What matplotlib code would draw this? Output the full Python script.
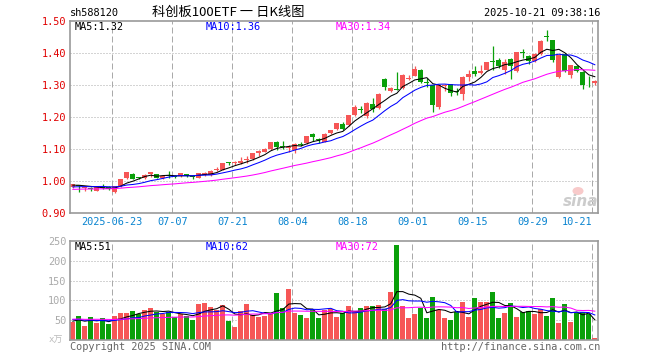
import matplotlib
matplotlib.use('Agg')
import matplotlib.pyplot as plt
from matplotlib.patches import Ellipse
import numpy as np
import pandas as pd

# trading days 2025-06-12 .. 2025-10-21 (national day holiday removed)
dates = pd.bdate_range('2025-06-12', '2025-10-21')
dates = dates[(dates < '2025-10-01') | (dates > '2025-10-08')]

# daily K data
opens = [0.980, 0.985, 0.976, 0.977, 0.969, 0.979, 0.981, 0.965, 0.983, 1.007,
         1.020, 1.011, 1.007, 1.021, 1.020, 1.008, 1.016, 1.014, 1.015, 1.020,
         1.013, 1.010, 1.018, 1.017, 1.033, 1.035, 1.056, 1.055, 1.056, 1.064,
         1.067, 1.086, 1.091, 1.098, 1.122, 1.106, 1.103, 1.096, 1.113, 1.117,
         1.146, 1.128, 1.122, 1.148, 1.161, 1.177, 1.174, 1.205, 1.224, 1.202,
         1.241, 1.226, 1.317, 1.281, 1.287, 1.289, 1.318, 1.328, 1.346, 1.306,
         1.299, 1.231, 1.295, 1.301, 1.280, 1.270, 1.323, 1.344, 1.336, 1.347,
         1.374, 1.378, 1.347, 1.380, 1.344, 1.400, 1.389, 1.373, 1.396, 1.452,
         1.440, 1.324, 1.396, 1.331, 1.358, 1.340, 1.312, 1.305]
highs = [0.990, 0.988, 0.982, 0.980, 0.981, 0.990, 0.983, 0.985, 1.006, 1.028,
         1.023, 1.013, 1.022, 1.027, 1.021, 1.018, 1.030, 1.018, 1.025, 1.022,
         1.015, 1.025, 1.026, 1.032, 1.044, 1.055, 1.059, 1.060, 1.075, 1.076,
         1.087, 1.095, 1.101, 1.121, 1.124, 1.124, 1.110, 1.117, 1.122, 1.141,
         1.149, 1.135, 1.150, 1.160, 1.180, 1.182, 1.206, 1.236, 1.232, 1.245,
         1.257, 1.273, 1.322, 1.292, 1.339, 1.334, 1.330, 1.357, 1.350, 1.320,
         1.300, 1.300, 1.301, 1.303, 1.290, 1.327, 1.347, 1.357, 1.360, 1.372,
         1.420, 1.385, 1.380, 1.384, 1.403, 1.412, 1.394, 1.398, 1.440, 1.472,
         1.441, 1.393, 1.398, 1.362, 1.362, 1.342, 1.326, 1.315]
lows = [0.978, 0.966, 0.968, 0.967, 0.967, 0.974, 0.971, 0.962, 0.981, 1.005,
        1.004, 1.006, 1.005, 1.011, 1.008, 1.006, 1.008, 1.008, 1.013, 1.011,
        1.005, 1.008, 1.015, 1.015, 1.030, 1.034, 1.048, 1.048, 1.053, 1.056,
        1.066, 1.078, 1.089, 1.097, 1.095, 1.098, 1.090, 1.087, 1.108, 1.114,
        1.124, 1.117, 1.120, 1.145, 1.158, 1.158, 1.172, 1.202, 1.212, 1.195,
        1.215, 1.224, 1.283, 1.276, 1.282, 1.286, 1.315, 1.326, 1.305, 1.294,
        1.216, 1.225, 1.280, 1.264, 1.268, 1.253, 1.310, 1.328, 1.333, 1.345,
        1.347, 1.352, 1.335, 1.319, 1.340, 1.385, 1.364, 1.370, 1.394, 1.435,
        1.370, 1.322, 1.340, 1.320, 1.340, 1.288, 1.292, 1.300]
closes = [0.989, 0.982, 0.977, 0.975, 0.979, 0.977, 0.973, 0.982, 1.005, 1.026,
          1.006, 1.009, 1.019, 1.026, 1.010, 1.016, 1.014, 1.012, 1.023, 1.015,
          1.011, 1.024, 1.024, 1.031, 1.037, 1.054, 1.054, 1.058, 1.060, 1.068,
          1.086, 1.093, 1.100, 1.120, 1.106, 1.104, 1.105, 1.115, 1.112, 1.140,
          1.138, 1.126, 1.146, 1.157, 1.179, 1.162, 1.205, 1.231, 1.222, 1.242,
          1.224, 1.272, 1.294, 1.291, 1.285, 1.330, 1.320, 1.349, 1.307, 1.304,
          1.236, 1.299, 1.298, 1.273, 1.278, 1.325, 1.333, 1.333, 1.344, 1.370,
          1.372, 1.357, 1.371, 1.357, 1.402, 1.398, 1.373, 1.396, 1.437, 1.450,
          1.378, 1.392, 1.342, 1.360, 1.344, 1.298, 1.310, 1.313]
# volume, 10k shares
volumes = [46, 61, 36, 58, 43, 56, 41, 61, 68, 68, 73, 66, 77, 81, 71, 66, 71, 58,
           66, 62, 52, 92, 93, 83, 77, 88, 49, 33, 73, 91, 64, 59, 62, 66, 118, 81,
           128, 68, 63, 56, 76, 56, 77, 79, 58, 68, 86, 71, 81, 86, 86, 88, 78, 121,
           238, 86, 56, 66, 81, 56, 108, 76, 56, 51, 71, 96, 58, 106, 96, 96, 121,
           56, 68, 93, 58, 71, 73, 66, 78, 61, 106, 43, 91, 46, 68, 71, 66, 6]

# estimated sessions before the window, only used to start the moving averages
prior_closes = [0.962, 0.965, 0.970, 0.968, 0.972, 0.966, 0.963, 0.969, 0.974, 0.971,
                0.967, 0.965, 0.970, 0.973, 0.968, 0.972, 0.975, 0.970, 0.966, 0.974,
                0.976, 0.972, 0.978, 0.974, 0.975, 0.983, 0.986, 0.984, 0.988]
prior_volumes = [48, 62, 55, 41, 58, 50, 67, 45, 52, 60, 49, 57, 44, 63, 51, 56, 47, 59,
                 53, 53, 60, 52, 58, 49, 61, 45, 52, 47, 50]

tick_dates = ['2025-06-23', '2025-07-07', '2025-07-21', '2025-08-04', '2025-08-18',
              '2025-09-01', '2025-09-15', '2025-09-29', '2025-10-21']
price_legend = ['MA5:1.32', 'MA10:1.36', 'MA30:1.34']
vol_legend = ['MA5:51', 'MA10:62', 'MA30:72']

RED = '#f65656'
GREEN = '#0aa00a'
GRID = '#aaaaaa'
MONO = 'DejaVu Sans Mono'
ma_colors = ['black', '#0000ff', '#ff00ff']

W, H = 660, 360
def px(xp, yp):
    return xp / W, 1 - yp / H

fig = plt.figure(figsize=(6.6, 3.6), dpi=100)
ax = fig.add_axes([70.3 / W, 1 - 212.7 / H, 528 / W, 192 / H])
axv = fig.add_axes([70.3 / W, 1 - 340.3 / H, 528 / W, 99.6 / H])

o = np.array(opens)
h = np.array(highs)
l = np.array(lows)
c = np.array(closes)
v = np.array(volumes)
x = np.arange(len(c))
cols = np.where(c >= o, RED, GREEN)

# moving averages
allc = pd.Series(prior_closes + closes)
allv = pd.Series(prior_volumes + volumes)
n0 = len(prior_closes)
pma = [allc.rolling(n).mean().values[n0:] for n in (5, 10, 30)]
vma = [allv.rolling(n).mean().values[n0:] for n in (5, 10, 30)]

tick_pos = [list(dates).index(pd.Timestamp(d)) - 0.42 for d in tick_dates]
tick_lab = [tick_dates[0]] + [d[5:] for d in tick_dates[1:]]

for a in (ax, axv):
    a.set_xlim(-0.42, len(c) - 0.42)
    for t in tick_pos:
        a.axvline(t, color=GRID, lw=0.72, ls=(0, (6, 3)), zorder=0)
    for s in a.spines.values():
        s.set_color('#999999')
        s.set_linewidth(1.2)
    a.tick_params(length=0)

# price panel
for yv in [1.0, 1.1, 1.2, 1.3, 1.4]:
    ax.axhline(yv, color=GRID, lw=0.72, ls=(0, (1, 2)), zorder=0)
ax.vlines(x, l, h, colors=cols, lw=0.9, zorder=2)
ax.bar(x, np.maximum(np.abs(c - o), 0.003), 0.78, bottom=np.minimum(o, c),
       color=cols, lw=0, zorder=2)
for m, col in zip(pma, ma_colors):
    ax.plot(x, m, color=col, lw=0.75, zorder=3)
ax.set_ylim(0.90, 1.50)
ax.set_yticks([0.9, 1.0, 1.1, 1.2, 1.3, 1.4, 1.5])
ax.set_yticklabels(['%.2f' % t for t in ax.get_yticks()], color='#e00000',
                   fontsize=7.4, family=MONO)
ax.tick_params(axis='y', pad=3)
ax.set_xticks(tick_pos)
ax.set_xticklabels(tick_lab, color='#0a84d0', fontsize=7.4, family=MONO)
ax.get_xticklabels()[-1].set_ha('right')
ax.tick_params(axis='x', pad=3)

# volume panel
for yv in [50, 100, 150, 200]:
    axv.axhline(yv, color=GRID, lw=0.72, ls=(0, (1, 2)), zorder=0)
axv.bar(x, v, 0.82, color=cols, lw=0, zorder=2)
for m, col in zip(vma, ma_colors):
    axv.plot(x, m, color=col, lw=0.75, zorder=3)
axv.set_ylim(0, 250)
axv.set_yticks([50, 100, 150, 200, 250])
axv.set_yticklabels(['50', '100', '150', '200', '250'], color='#aaaaaa',
                    fontsize=7.4, family=MONO)
axv.tick_params(axis='y', pad=3)
axv.set_xticks([])

# header, legends, footer
fig.text(*px(70, 13), 'sh588120', fontsize=7.4, family=MONO, va='center')
fig.text(*px(228, 12), '科创板100ETF 一 日K线图', fontsize=9.5,
         family=['Noto Sans CJK SC', 'DejaVu Sans'], ha='center', va='center')
fig.text(*px(600, 13), '2025-10-21 09:38:16', fontsize=7.4, family=MONO,
         ha='right', va='center')
for txt, col, xp in zip(price_legend, ma_colors, [75, 206, 336]):
    fig.text(*px(xp, 27), txt, color=col, fontsize=7.4, family=MONO, va='center')
for txt, col, xp in zip(vol_legend, ma_colors, [75, 206, 336]):
    fig.text(*px(xp, 247), txt, color=col, fontsize=7.4, family=MONO, va='center')
fig.text(*px(63, 340), 'x万', color='#bbbbbb', fontsize=6.5,
         family=[MONO, 'Noto Sans CJK SC'], ha='right', va='center')
fig.text(*px(70, 347), 'Copyright 2025 SINA.COM', color='#666666', fontsize=7.4,
         family=MONO, va='center')
fig.text(*px(600, 347), 'http://finance.sina.com.cn', color='#666666', fontsize=7.4,
         family=MONO, ha='right', va='center')

# sina watermark
fig.add_artist(Ellipse(px(578, 191), 11 / W, 8 / H, transform=fig.transFigure,
                       color='#f8caca', lw=0, zorder=1))
fig.text(*px(581, 201), 'sina', color='#cccccc', fontsize=11, fontweight='bold',
         style='italic', ha='center', va='center', zorder=1)

fig.savefig('out.png', dpi=100)
